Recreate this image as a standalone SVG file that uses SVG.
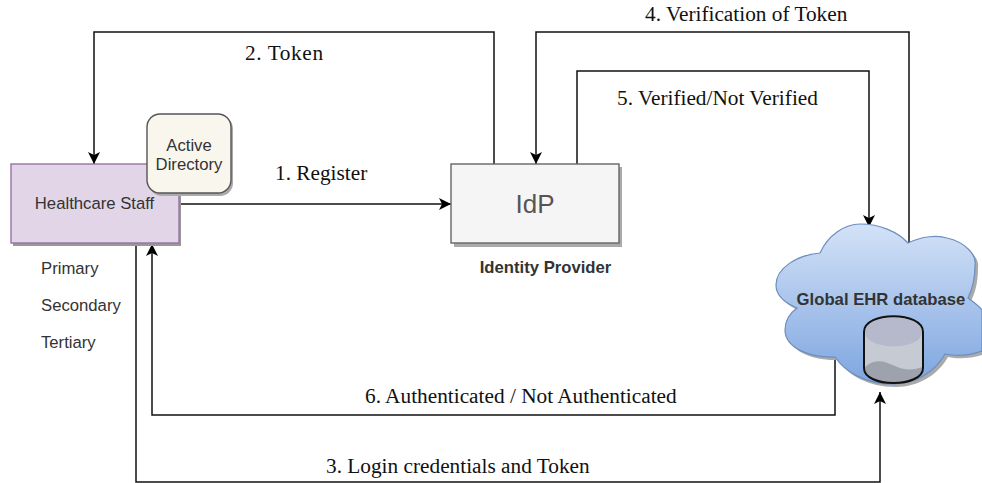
<svg xmlns="http://www.w3.org/2000/svg" width="982" height="483" viewBox="0 0 982 483">
<style>
.s{font-family:"Liberation Sans",Arial,sans-serif;fill:#333;font-size:16.7px}
.t{font-family:"Liberation Serif","Times New Roman",serif;font-size:21.3px;fill:#111}
.c{fill:none;stroke:#111;stroke-width:1.5}
</style>
<defs>
<marker id="a" markerUnits="userSpaceOnUse" markerWidth="13" markerHeight="14" refX="12" refY="7" orient="auto"><path d="M0 1L12 7L0 13L3 7Z" fill="#000"/></marker>
<linearGradient id="g" x1="0" y1="0" x2="0" y2="1"><stop offset="0" stop-color="#d3e2f7"/><stop offset="1" stop-color="#7ea6e0"/></linearGradient>
<path id="cloud" d="M776 285C776 268 797 255 820 253C828 235 845 224 860 224C880 224 898 232 908 243C922 236 938 235 947 238C965 242 977 255 975 265C975 280 972 290 968 298C975 303 980 307 982 310V351C968 356 955 356 945 354C935 372 915 384 893 384C865 384 845 372 835 357C810 358 785 348 785 330C785 320 790 313 797 308C785 303 776 295 776 285Z"/>
</defs>
<rect width="982" height="483" fill="#fff"/>
<g id="connectors">
<path class="c" d="M494 164V32H94V164" marker-end="url(#a)"/>
<path class="c" d="M180 204H451" marker-end="url(#a)"/>
<path class="c" d="M909 243V32H536V164" marker-end="url(#a)"/>
<path class="c" d="M577 164V71H869V227" marker-end="url(#a)"/>
<path class="c" d="M835 357V415H152V244" marker-end="url(#a)"/>
<path class="c" d="M136 244V482H880V392" marker-end="url(#a)"/>
</g>
<g id="labels" class="t">
<text x="245" y="60" letter-spacing=".6">2. Token</text>
<text x="275" y="180">1. Register</text>
<text x="645" y="21">4. Verification of Token</text>
<text x="617" y="105">5. Verified/Not Verified</text>
<text x="365" y="403">6. Authenticated / Not Authenticated</text>
<text x="326" y="473">3. Login credentials and Token</text>
</g>
<g id="healthcare-staff">
<rect x="13" y="167" width="168" height="79" fill="#999"/>
<rect x="11" y="164" width="168" height="79" fill="#e1d5e7" stroke="#9673a6" stroke-width="1.4"/>
<text class="s" x="94.500" y="209" text-anchor="middle">Healthcare Staff</text>
<text class="s" x="41" y="274">Primary</text>
<text class="s" x="41" y="311">Secondary</text>
<text class="s" x="41" y="348">Tertiary</text>
</g>
<g id="active-directory">
<rect x="149" y="116" width="84" height="80" rx="13" fill="#aaa"/>
<rect x="147" y="114" width="84" height="79" rx="13" fill="#f9f7ed" stroke="#555" stroke-width="1.4"/>
<text class="s" x="189" y="151" text-anchor="middle">Active</text>
<text class="s" x="189" y="170" text-anchor="middle">Directory</text>
</g>
<g id="idp">
<rect x="454" y="167" width="168" height="80" fill="#aaa"/>
<rect x="451" y="164" width="168" height="79" fill="#f5f5f5" stroke="#666" stroke-width="1.4"/>
<text class="s" x="535" y="213" text-anchor="middle" style="fill:#555;font-size:26px">IdP</text>
<text class="s" x="545.500" y="273" font-weight="bold" text-anchor="middle">Identity Provider</text>
</g>
<g id="global-ehr-database">
<use href="#cloud" x="3" y="3" fill="#aaa"/>
<use href="#cloud" fill="url(#g)" stroke="#6c8ebf" stroke-width="1.2"/>
<text class="s" x="881" y="305" font-weight="bold" text-anchor="middle">Global EHR database</text>
<path d="M864 332C864 311 923 311 923 332V368C923 388 864 388 864 368Z" fill="#c6cad2"/>
<path d="M865 332C865 351 922 351 922 332C922 313 865 313 865 332Z" fill="#b5b9cb"/>
<path d="M865 367C875 358 885 361 895 366C905 371 915 370 922 367C922 388 865 388 865 367Z" fill="#9ea2ad"/>
<path d="M864 332C864 311 923 311 923 332V368C923 388 864 388 864 368Z" fill="none" stroke="#111" stroke-width="2"/>
</g>
</svg>
